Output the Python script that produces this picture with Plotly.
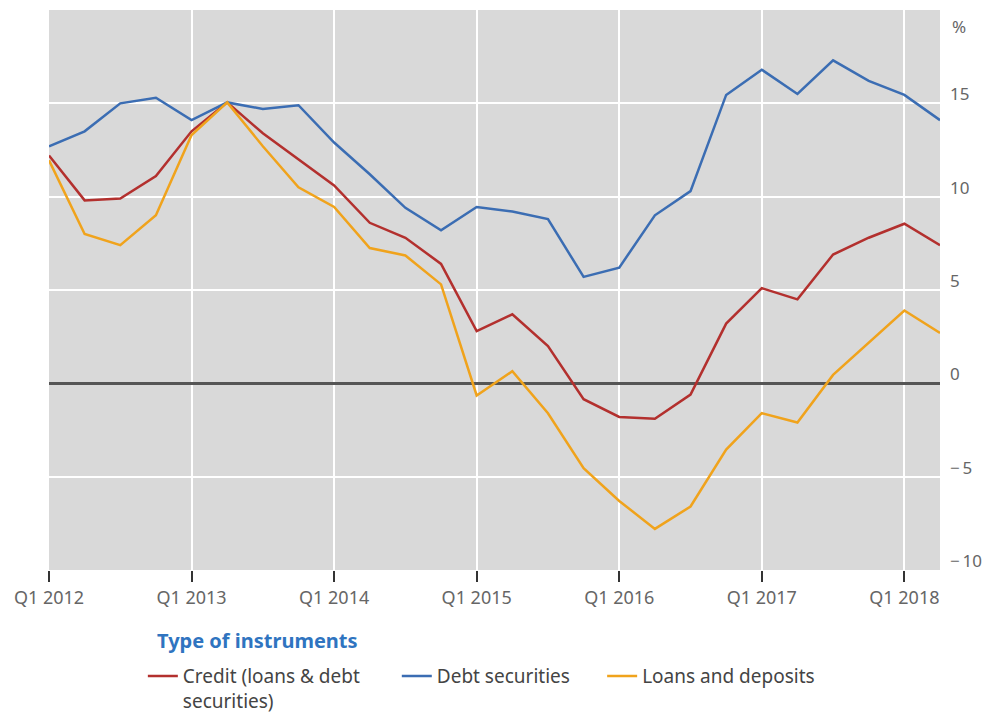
import plotly.graph_objects as go

quarters = [f"Q{q} {y}" for y in range(2012, 2019) for q in range(1, 5)][:26]
credit = [12.2, 9.8, 9.9, 11.1, 13.5, 15.05, 13.4, 12.0, 10.6, 8.6, 7.8, 6.4,
          2.8, 3.7, 2.0, -0.85, -1.8, -1.9, -0.6, 3.2, 5.1, 4.5, 6.9, 7.8, 8.55, 7.4]
debt_sec = [12.7, 13.5, 15.0, 15.3, 14.1, 15.05, 14.7, 14.9, 12.9, 11.2, 9.4, 8.2,
            9.45, 9.2, 8.8, 5.7, 6.2, 9.0, 10.3, 15.45, 16.8, 15.5, 17.3, 16.2, 15.45, 14.1]
loans_dep = [11.95, 8.0, 7.4, 9.0, 13.3, 15.05, 12.7, 10.5, 9.45, 7.25, 6.85, 5.3,
             -0.65, 0.65, -1.6, -4.55, -6.3, -7.8, -6.6, -3.55, -1.6, -2.1, 0.45, 2.2, 3.9, 2.7]
x_tick_labels = ["Q1 2012", "Q1 2013", "Q1 2014", "Q1 2015", "Q1 2016", "Q1 2017", "Q1 2018"]
y_tick_vals = [-10, -5, 0, 5, 10, 15]
y_tick_text = ["\u2212\u200910", "\u2212\u20095", "0", "5", "10", "15"]

xs = list(range(len(quarters)))
series = [
    ("Credit (loans & debt<br>securities)", credit, "#b3302e", "legend", 0.144),
    ("Debt securities", debt_sec, "#3b6db3", "legend2", 0.400),
    ("Loans and deposits", loans_dep, "#f0a31c", "legend3", 0.607),
]

fig = go.Figure()
legends = {}
for name, vals, col, lg, lx in series:
    fig.add_trace(go.Scatter(x=xs, y=vals, mode="lines", name=name, legend=lg,
                             text=quarters, line=dict(color=col, width=2.5)))
    legends[lg] = dict(
        orientation="h", xref="container", yref="container",
        x=lx, y=0.0785, xanchor="left", yanchor="top", valign="top",
        font=dict(size=19, color="#444444"), itemwidth=30,
        bgcolor="rgba(0,0,0,0)",
    )

fig.update_layout(
    width=992, height=713,
    margin=dict(l=49, r=50, t=10, b=143),
    plot_bgcolor="#d9d9d9", paper_bgcolor="white",
    font=dict(family="Noto Sans, Open Sans, sans-serif", size=17, color="#555555"),
    showlegend=True,
    xaxis=dict(
        range=[0, 25], tickvals=[0, 4, 8, 12, 16, 20, 24], ticktext=x_tick_labels,
        showgrid=True, gridcolor="white", gridwidth=2,
        ticks="outside", ticklen=11, tickcolor="#333333", tickwidth=1.5,
        zeroline=False, showline=False, tickfont=dict(size=18, color="#666666"),
    ),
    yaxis=dict(
        range=[-10, 20], side="right", tickvals=y_tick_vals, ticktext=y_tick_text,
        showgrid=True, gridcolor="white", gridwidth=2,
        zeroline=True, zerolinecolor="#555555", zerolinewidth=3,
        ticks="", ticklabelposition="outside", ticklabelshift=-9,
        ticklabelstandoff=9, showline=False,
        tickfont=dict(size=17, color="#666666"),
    ),
    **legends,
)
fig.add_annotation(text="%", xref="paper", yref="y", x=1, y=19.1, xanchor="left",
                   yanchor="middle", xshift=10, showarrow=False,
                   font=dict(size=17, color="#666666"))
fig.add_annotation(text="<b>Type of instruments</b>", xref="paper", yref="paper",
                   x=0.1187, y=-0.125, xanchor="left", yanchor="middle",
                   showarrow=False, font=dict(size=20, color="#2f74c0"))

fig.write_html("out.html", config={"displayModeBar": False},
               post_script="document.body.style.margin='0';document.body.style.overflow='hidden';")
